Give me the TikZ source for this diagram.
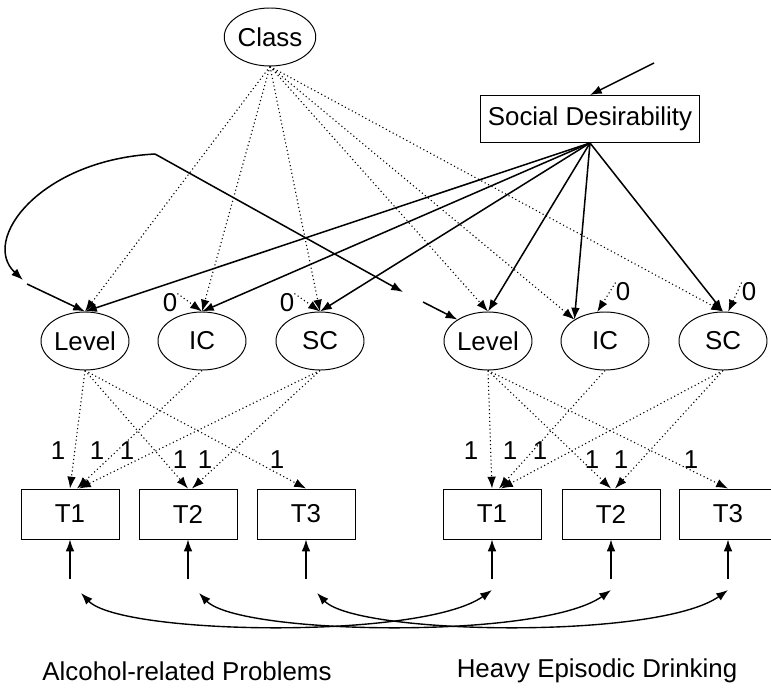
\documentclass[tikz,border=0pt]{standalone}
\usepackage{fontspec}
\setmainfont{Liberation Sans}
\usetikzlibrary{shapes.geometric,arrows.meta}
\tikzset{>={Latex[width=2.2mm,length=3mm]}}
\tikzset{
  latent/.style={shape=ellipse,draw,line width=0.7pt,inner sep=0pt,minimum width=0.88in,minimum height=0.58in},
  observed/.style={shape=rectangle,draw,line width=0.7pt,inner sep=0pt,minimum width=0.98in,minimum height=0.50in},
  fixval/.style={inner sep=0pt},
  regline/.style={->,line width=1.1pt},
  classline/.style={->,dotted,line width=0.8pt},
}
\begin{document}
\begin{tikzpicture}[font=\fontsize{18.7}{22}\selectfont]
\useasboundingbox (0in,0in) rectangle (7.71in,-6.92in);

% latent classes and covariate
\path (2.70in,-0.37in) node (class) [shape=ellipse,draw,line width=0.7pt,inner sep=0pt,minimum width=0.88in,minimum height=0.58in]{Class};
\path (5.90in,-1.19in) node (sd) [shape=rectangle,draw,line width=0.7pt,inner sep=0pt,minimum width=2.19in,minimum height=0.47in]{Social Desirability};
\coordinate (sdin) at (6.54in,-0.63in);

% growth factors
\path (0.85in,-3.41in) node (lva) [latent]{Level};
\path (2.02in,-3.41in) node (ica) [latent]{IC};
\path (3.20in,-3.41in) node (sca) [latent]{SC};
\path (4.88in,-3.41in) node (lvh) [latent]{Level};
\path (6.05in,-3.41in) node (ich) [latent]{IC};
\path (7.23in,-3.41in) node (sch) [latent]{SC};

% indicators
\path (0.70in,-5.14in) node (ta1) [observed]{T1};
\path (1.88in,-5.14in) node (ta2) [observed]{T2};
\path (3.06in,-5.14in) node (ta3) [observed]{T3};
\path (4.92in,-5.14in) node (th1) [observed]{T1};
\path (6.11in,-5.14in) node (th2) [observed]{T2};
\path (7.28in,-5.14in) node (th3) [observed]{T3};

% fixed values
\path (1.70in,-3.03in) node (za) [fixval]{0};
\path (2.87in,-3.03in) node (zb) [fixval]{0};
\path (6.23in,-2.92in) node (zc) [fixval]{0};
\path (7.49in,-2.92in) node (zd) [fixval]{0};
\foreach \x/\y [count=\i] in {0.58/4.51,0.97/4.51,1.27/4.51,1.80/4.60,2.05/4.60,2.77/4.60,
  4.71/4.51,5.10/4.51,5.40/4.51,5.92/4.60,6.21/4.60,6.91/4.60}
  \path (\x in,-\y in) node (one\i) [fixval]{1};

% group labels
\path (1.87in,-6.71in) node (grpa) {Alcohol-related Problems};
\path (5.97in,-6.71in) node (grph) {Heavy Episodic Drinking};

% class effects
\foreach \t in {lva.north,ica.north,sca.north,lvh.north,ich.145,sch.north}
  \draw[classline] (class.south) -- (\t);

% social desirability effects
\draw[regline] (sdin) -- (sd.north);
\foreach \t in {lva.north,ica.north,sca.north,lvh.north,ich.145,sch.north}
  \draw[regline] (sd.south) -- (\t);

% level covariance
\coordinate (kink) at (1.55in,-1.54in);
\coordinate (loopend) at (0.23in,-2.80in);
\coordinate (loopout) at (0.27in,-2.84in);
\coordinate (cut) at (4.03in,-2.92in);
\coordinate (cutout) at (4.23in,-3.02in);
\draw[->,line width=1.1pt] (kink) .. controls (0.40in,-1.60in) and (-0.20in,-2.40in) .. (loopend);
\draw[regline] (loopout) -- (lva.north);
\draw[regline] (kink) -- (cut);
\draw[regline] (cutout) -- (lvh.145);

% intercepts fixed at zero
\draw[classline] (za.north east) -- (ica.north);
\draw[classline] (zb.north east) -- (sca.north);
\draw[classline] (zc.north west) -- (ich.105);
\draw[classline] (zd.north west) -- (sch.80);

% loadings
\draw[classline] (lva.south) -- (ta1.north);
\draw[classline] (lva.south) -- (ta2.north);
\draw[classline] (lva.south) -- (ta3.north);
\draw[classline] (ica.south) -- ([xshift=0.07in]ta1.north);
\draw[classline] (sca.south) -- ([xshift=0.09in]ta1.north);
\draw[classline] (sca.south) -- ([xshift=0.04in]ta2.north);
\draw[classline] (lvh.south) -- (th1.north);
\draw[classline] (lvh.south) -- (th2.north);
\draw[classline] (lvh.south) -- (th3.north);
\draw[classline] (ich.south) -- ([xshift=0.07in]th1.north);
\draw[classline] (sch.south) -- ([xshift=0.09in]th1.north);
\draw[classline] (sch.south) -- ([xshift=0.04in]th2.north);

% residuals
\foreach \b in {ta1,ta2,ta3,th1,th2,th3} {
  \coordinate (e\b) at ([yshift=-0.40in]\b.south);
  \draw[->,line width=0.9pt] (e\b) -- (\b.south);
}
\coordinate (ca1) at (0.81in,-5.93in);
\coordinate (ca2) at (1.99in,-5.93in);
\coordinate (ca3) at (3.17in,-5.93in);
\coordinate (ch1) at (4.92in,-5.90in);
\coordinate (ch2) at (6.11in,-5.90in);
\coordinate (ch3) at (7.28in,-5.90in);
\foreach \a/\h in {ca1/ch1,ca2/ch2,ca3/ch3}
  \draw[<->,line width=1.0pt] (\a) .. controls +(0.40in,-0.42in) and +(-0.70in,-0.50in) .. (\h);

\end{tikzpicture}
\end{document}
